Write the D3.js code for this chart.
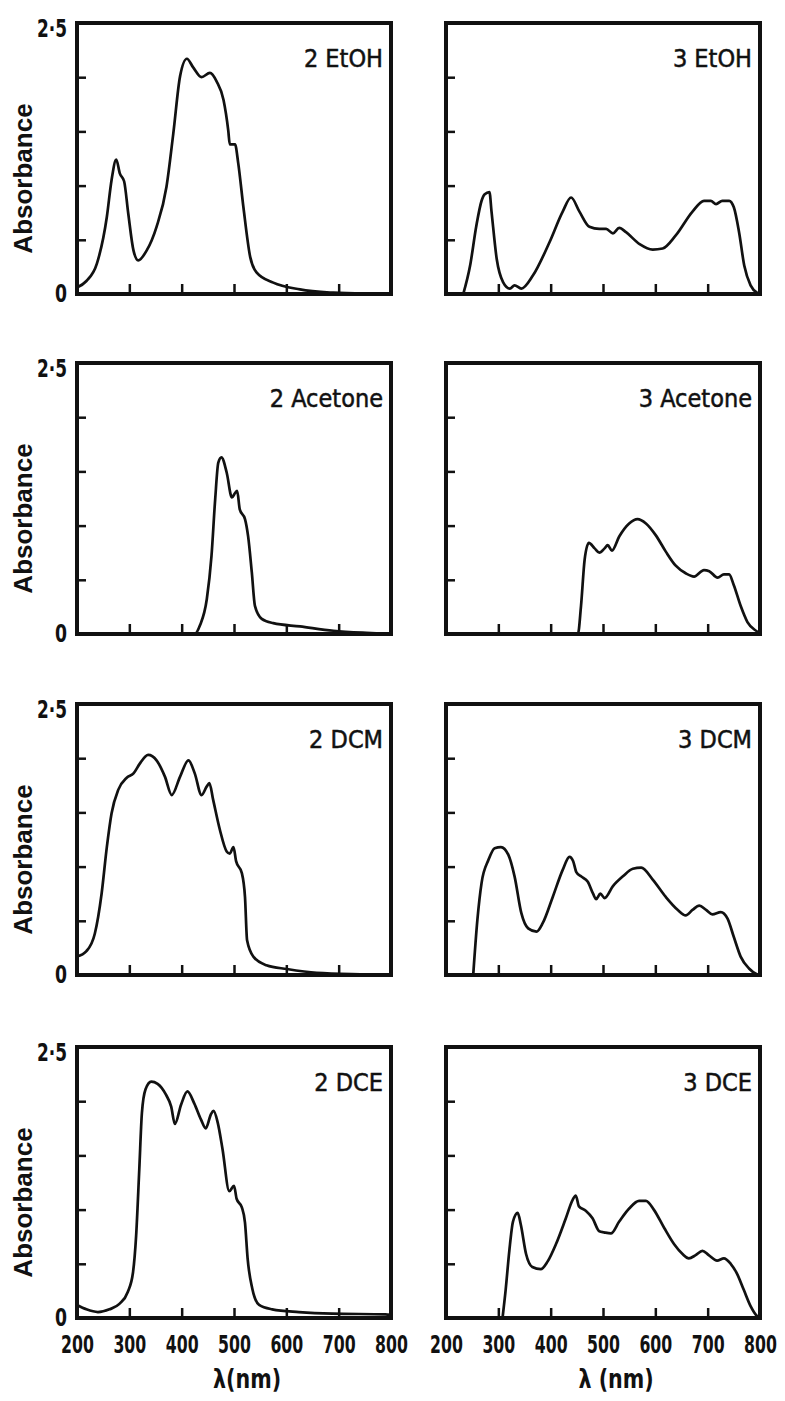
<html>
<head>
<meta charset="utf-8">
<title>Absorption spectra</title>
<style>
  body { margin: 0; background: #fff; }
  .lbl { font-family: "DejaVu Sans Condensed", "DejaVu Sans", sans-serif; fill: #111; }
  .ylab { font-family: "Liberation Sans", Arial, sans-serif; font-weight: bold; fill: #111; }
</style>
<script src="https://cdnjs.cloudflare.com/ajax/libs/d3/7.8.5/d3.min.js"></script>
</head>
<body>
<svg width="785" height="1401"></svg>
<script>
// panel titles, in reading order (row by row, left then right)
var titles = ["2 EtOH", "3 EtOH", "2 Acetone", "3 Acetone", "2 DCM", "3 DCM", "2 DCE", "3 DCE"];

var xTicks = [300, 400, 500, 600, 700];
var xLabels = [200, 300, 400, 500, 600, 700, 800];
var yTicks = [0.5, 1, 1.5, 2];
var yLabels = [0, 2.5];

// spectra: [wavelength nm, absorbance]
var eth2 = [[200,0.06],[218,0.12],[238,0.28],[257,0.71],[266,1.05],[275,1.24],[282,1.11],[290,1.04],[298,0.74],
  [308,0.40],[317,0.31],[333,0.40],[352,0.62],[371,0.99],[384,1.48],[397,2.01],[410,2.17],[422,2.09],[438,2.00],
  [454,2.04],[467,1.96],[480,1.79],[489,1.51],[492,1.38],[502,1.38],[508,1.21],[518,0.80],[531,0.34],[543,0.20],
  [575,0.105],[626,0.043],[690,0.012],[753,0.002],[800,0]];
var eth3 = [[233,0],[246,0.26],[258,0.63],[268,0.86],[274,0.92],[283,0.94],[287,0.76],[297,0.32],[309,0.11],
  [322,0.05],[331,0.08],[344,0.05],[366,0.17],[398,0.48],[423,0.76],[439,0.89],[455,0.76],[474,0.62],[493,0.60],
  [506,0.60],[519,0.56],[531,0.61],[544,0.57],[570,0.46],[595,0.41],[614,0.42],[639,0.54],[671,0.76],[693,0.86],
  [706,0.86],[716,0.83],[728,0.86],[741,0.86],[750,0.80],[760,0.57],[770,0.26],[782,0.08],[795,0.01],[800,0]];
var ace2 = [[200,0],[425,0],[435,0.08],[448,0.32],[457,0.72],[464,1.24],[470,1.58],[476,1.63],[486,1.49],
  [496,1.26],[502,1.30],[506,1.32],[511,1.15],[521,1.06],[527,0.90],[534,0.57],[540,0.26],[553,0.14],[575,0.10],
  [626,0.07],[690,0.03],[753,0.01],[800,0]];
var ace3 = [[200,0],[452,0],[458,0.26],[465,0.69],[473,0.84],[484,0.79],[493,0.75],[503,0.79],[509,0.82],
  [517,0.77],[531,0.90],[550,1.02],[566,1.06],[582,1.02],[601,0.91],[620,0.76],[639,0.63],[658,0.56],[674,0.53],
  [693,0.59],[703,0.58],[719,0.52],[731,0.55],[741,0.55],[750,0.45],[763,0.26],[776,0.11],[795,0.02],[800,0]];
var dcm2 = [[200,0.17],[218,0.22],[234,0.38],[247,0.75],[257,1.18],[266,1.49],[279,1.71],[295,1.82],[308,1.86],
  [320,1.95],[336,2.03],[352,1.98],[368,1.83],[381,1.66],[397,1.83],[413,1.98],[425,1.86],[438,1.66],[448,1.74],
  [453,1.77],[460,1.62],[473,1.34],[486,1.14],[492,1.12],[499,1.18],[504,1.05],[515,0.94],[521,0.72],[525,0.32],
  [537,0.17],[562,0.09],[601,0.055],[658,0.02],[753,0.006],[800,0]];
var dcm3 = [[252,0],[260,0.51],[268,0.85],[281,1.06],[293,1.17],[305,1.18],[319,1.11],[331,0.91],[344,0.57],
  [357,0.43],[373,0.40],[385,0.48],[404,0.72],[423,0.97],[436,1.09],[443,1.05],[449,0.95],[458,0.91],[471,0.86],
  [481,0.75],[487,0.70],[495,0.75],[503,0.71],[519,0.82],[538,0.91],[557,0.98],[573,0.99],[595,0.88],[620,0.72],
  [643,0.60],[658,0.55],[671,0.60],[684,0.64],[697,0.60],[709,0.56],[725,0.58],[738,0.52],[750,0.35],[763,0.17],
  [779,0.06],[795,0.005],[800,0]];
var dce2 = [[200,0.12],[218,0.08],[240,0.055],[262,0.08],[281,0.13],[297,0.24],[307,0.42],[313,0.76],[319,1.37],
  [324,1.89],[331,2.11],[342,2.18],[354,2.16],[370,2.06],[380,1.95],[387,1.79],[399,1.97],[411,2.09],[424,1.98],
  [437,1.83],[446,1.75],[456,1.88],[461,1.91],[469,1.80],[478,1.56],[491,1.17],[500,1.22],[505,1.10],[515,1.02],
  [521,0.88],[526,0.55],[535,0.27],[548,0.12],[573,0.08],[624,0.055],[688,0.04],[789,0.034],[800,0.03]];
var dce3 = [[308,0],[314,0.26],[321,0.62],[328,0.89],[337,0.97],[343,0.86],[353,0.59],[365,0.47],[381,0.45],
  [394,0.52],[410,0.68],[429,0.92],[442,1.09],[448,1.13],[454,1.03],[467,0.99],[480,0.92],[493,0.80],[502,0.79],
  [515,0.78],[531,0.89],[550,1.01],[569,1.08],[582,1.08],[597,1.00],[617,0.83],[636,0.68],[652,0.59],[664,0.55],
  [677,0.58],[690,0.62],[702,0.58],[718,0.53],[731,0.55],[744,0.50],[756,0.41],[769,0.26],[782,0.11],[795,0.015],[800,0]];

var spectra = [eth2, eth3, ace2, ace3, dcm2, dcm3, dce2, dce3];

var svg = d3.select("svg");
var colX = [77, 446], pw = 314, ph = 271;
var rowY = [23, 363, 704, 1047];

var x = d3.scaleLinear().domain([200, 800]).range([0, pw]);
var y = d3.scaleLinear().domain([0, 2.5]).range([ph, 0]);

var line = d3.line()
    .x(d => x(d[0]))
    .y(d => y(d[1]))
    .curve(d3.curveMonotoneX);

spectra.forEach(function(data, i) {
  var col = i % 2, row = Math.floor(i / 2);
  var g = svg.append("g").attr("transform", `translate(${colX[col]},${rowY[row]})`);

  // inward ticks
  g.append("g")
      .attr("transform", `translate(0,${ph})`)
      .call(d3.axisBottom(x).tickValues(xTicks).tickSizeInner(-10).tickSizeOuter(0).tickFormat(""))
      .call(a => a.select(".domain").remove())
      .selectAll("line").attr("stroke", "#111").attr("stroke-width", 2.5);
  g.append("g")
      .call(d3.axisLeft(y).tickValues(yTicks).tickSizeInner(-9).tickSizeOuter(0).tickFormat(""))
      .call(a => a.select(".domain").remove())
      .selectAll("line").attr("stroke", "#111").attr("stroke-width", 2.5);

  g.append("path")
      .datum(data)
      .attr("d", line)
      .attr("fill", "none")
      .attr("stroke", "#111")
      .attr("stroke-width", 2.7)
      .attr("stroke-linejoin", "round");

  g.append("rect")
      .attr("width", pw).attr("height", ph)
      .attr("fill", "none")
      .attr("stroke", "#111")
      .attr("stroke-width", 4);

  g.append("text")
      .attr("class", "lbl")
      .attr("x", pw - 8).attr("y", 44)
      .attr("text-anchor", "end")
      .attr("font-size", 25)
      .attr("stroke", "#111").attr("stroke-width", 0.5)
      .text(titles[i]);

  if (col == 0) {
    var ya = g.append("g")
        .call(d3.axisLeft(y).tickValues(yLabels).tickSize(0).tickPadding(10)
          .tickFormat(d => d == 0 ? "0" : "2·5"));
    ya.select(".domain").remove();
    ya.selectAll("text").attr("class", "lbl").attr("font-size", 25).attr("font-weight", "bold")
      .attr("textLength", d => d == 0 ? 12 : 30)
      .attr("lengthAdjust", "spacingAndGlyphs")
      .attr("dy", d => d == 0 ? "0.3em" : "0.55em");

    g.append("text")
        .attr("class", "ylab")
        .attr("transform", `translate(${-45},${ph / 2 + 20}) rotate(-90)`)
        .attr("text-anchor", "middle")
        .attr("font-size", 26)
        .text("Absorbance");
  }

  if (row == 3) {
    // condensed tick numbers: squeeze each label around its own tick
    var xa = g.append("g")
        .attr("transform", `translate(0,${ph})`)
        .call(d3.axisBottom(x).tickValues(xLabels).tickSize(0).tickPadding(17).tickFormat(d3.format("d")));
    xa.select(".domain").remove();
    xa.selectAll("text").attr("class", "lbl").attr("font-size", 25).attr("font-weight", "bold")
      .attr("transform", "scale(0.7,1)");

    g.append("text")
        .attr("class", "lbl")
        .attr("transform", `translate(${x(525)},${ph + 70}) scale(0.85,1)`)
        .attr("text-anchor", "middle")
        .attr("font-size", 27)
        .attr("font-weight", "bold")
        .text(col == 0 ? "λ(nm)" : "λ (nm)");
  }
});
</script>
</body>
</html>
